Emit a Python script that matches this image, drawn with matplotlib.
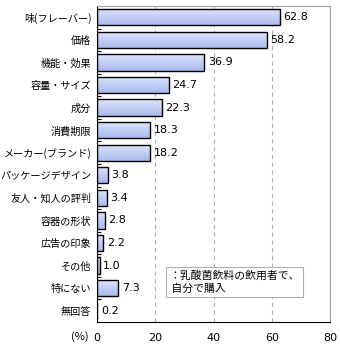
import matplotlib
matplotlib.use("Agg")
import matplotlib.pyplot as plt
import numpy as np

plt.rcParams["font.family"] = ["Noto Sans CJK JP", "DejaVu Sans"]

categories = [
    "味(フレーバー)", "価格", "機能・効果", "容量・サイズ", "成分", "消費期限",
    "メーカー(ブランド)", "パッケージデザイン", "友人・知人の評判", "容器の形状",
    "広告の印象", "その他", "特にない", "無回答",
]
values = [62.8, 58.2, 36.9, 24.7, 22.3, 18.3, 18.2, 3.8, 3.4, 2.8, 2.2, 1.0, 7.3, 0.2]
xticks = [0, 20, 40, 60, 80]
note = "：乳酸菌飲料の飲用者で、\n 自分で購入"

fig = plt.figure(figsize=(3.4, 3.5), dpi=100)
ax = fig.add_axes([0.285, 0.08, 0.686, 0.903])

n = len(categories)
y = np.arange(n)
bars = ax.barh(y, values, height=0.72, color="none", edgecolor="black",
               linewidth=1.0, zorder=3)

# vertical gradient inside each bar
grad = np.linspace(0, 1, 64).reshape(-1, 1)
cmap = matplotlib.colors.LinearSegmentedColormap.from_list(
    "barfill", ["#dfe6fb", "#c3cff5", "#a9b9ee"])
for b in bars:
    x0, y0 = b.get_x(), b.get_y()
    im = ax.imshow(grad, cmap=cmap, aspect="auto", zorder=2,
                   extent=[x0, x0 + b.get_width(), y0 + b.get_height(), y0])
    im.set_clip_path(b)

for yi, v in zip(y, values):
    ax.text(v + 1.2, yi, f"{v:.1f}", va="center", ha="left", fontsize=8,
            family="DejaVu Sans", zorder=4)

ax.set_xlim(0, 80)
ax.set_ylim(n - 0.5, -0.5)
ax.set_xticks(xticks)
ax.set_xticklabels([str(t) for t in xticks], fontsize=8, family="DejaVu Sans")
ax.set_yticks(y)
ax.set_yticklabels(categories, fontsize=7.3)
ax.set_yticks(np.arange(n + 1) - 0.5, minor=True)
ax.tick_params(axis="y", which="major", length=0, pad=4)
ax.tick_params(axis="y", which="minor", direction="in", length=3, width=0.8)
ax.tick_params(axis="x", length=0, pad=8)

ax.grid(axis="x", linestyle=(0, (4, 3)), color="#b0b0b0", linewidth=0.8, zorder=1)
ax.set_axisbelow(True)

for s in ["top", "right"]:
    ax.spines[s].set_color("#a0a0a0")
for s in ["left", "bottom"]:
    ax.spines[s].set_color("black")

fig.text(80 / 340, 1 - 337 / 350, "(%)", fontsize=8, ha="center", va="center")

ax.text(0.31, 0.126, note, transform=ax.transAxes, fontsize=7.8, va="center",
        ha="left", linespacing=1.25, zorder=5,
        bbox=dict(boxstyle="square,pad=0.3", facecolor="white",
                  edgecolor="#b0b0b0", linewidth=0.8))

fig.savefig("out.png", dpi=100)
